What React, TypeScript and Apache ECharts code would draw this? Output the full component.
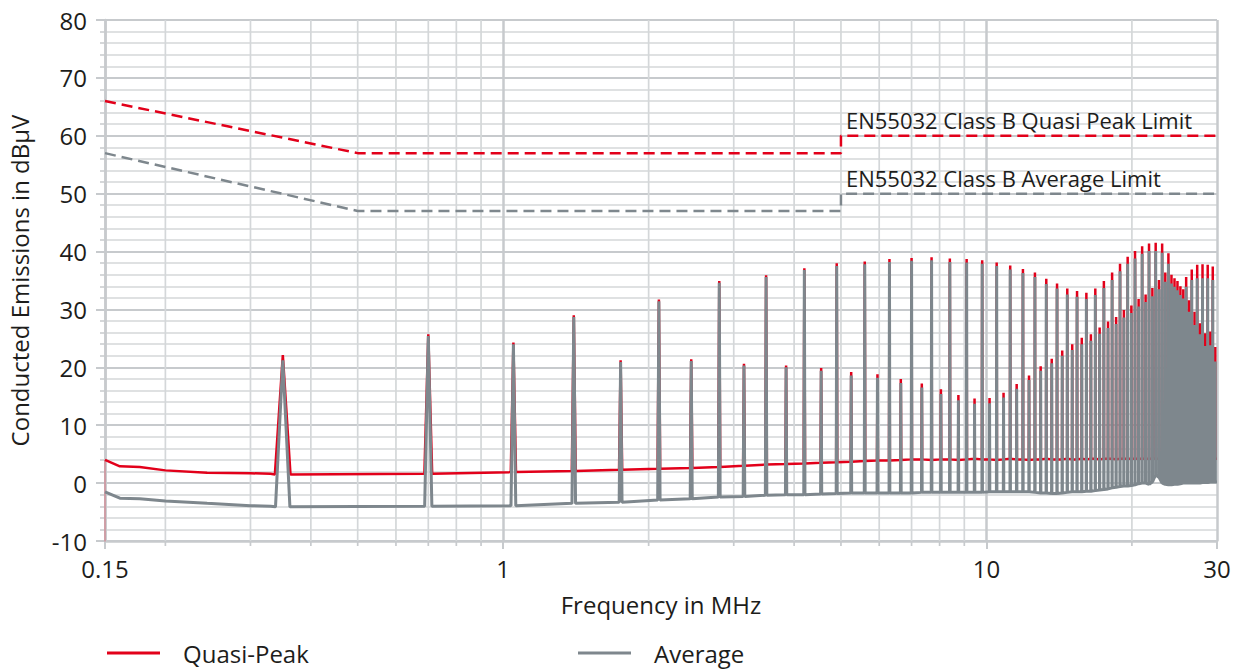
import React, { useEffect, useRef } from "react";
import * as echarts from "echarts";

// ---------- data ----------
const peakFreqs = [
  0.35, 0.7, 1.05, 1.4, 1.75, 2.1, 2.45, 2.8, 3.15, 3.5,
  3.85, 4.2, 4.55, 4.9, 5.25, 5.6, 5.95, 6.3, 6.65, 7.0,
  7.35, 7.7, 8.05, 8.4, 8.75, 9.1, 9.45, 9.8, 10.15, 10.5,
  10.85, 11.2, 11.55, 11.9, 12.25, 12.6, 12.95, 13.3, 13.65, 14.0,
  14.35, 14.7, 15.05, 15.4, 15.75, 16.1, 16.45, 16.8, 17.15, 17.5,
  17.85, 18.2, 18.55, 18.9, 19.25, 19.6, 19.95, 20.3, 20.65, 21.0,
  21.35, 21.7, 22.05, 22.4, 22.75, 23.1, 23.45, 23.8, 24.15, 24.5,
  24.85, 25.2, 25.55, 25.9, 26.25, 26.6, 26.95, 27.3, 27.65, 28.0,
  28.35, 28.7, 29.05, 29.4, 29.75,
];

const qpPeaks = [
  22.1, 25.7, 24.3, 29.0, 21.2, 31.7, 21.4, 34.9, 20.6, 35.9,
  20.3, 37.1, 19.9, 38.0, 19.2, 38.3, 18.8, 38.7, 18.0, 38.9,
  17.2, 39.0, 16.2, 38.8, 15.2, 38.7, 14.6, 38.5, 14.7, 38.1,
  15.6, 37.6, 17.1, 37.0, 18.6, 36.4, 20.2, 35.3, 21.5, 34.5,
  22.9, 33.6, 24.0, 33.2, 25.1, 32.9, 25.7, 33.6, 26.9, 34.9,
  27.9, 36.4, 28.7, 37.9, 29.9, 39.1, 30.7, 40.1, 31.8, 40.9,
  32.6, 41.4, 33.7, 41.5, 35.1, 41.4, 36.4, 39.7, 36.0, 35.4,
  34.9, 34.0, 33.5, 35.6, 31.6, 36.9, 29.6, 37.7, 27.6, 37.8,
  25.9, 37.7, 26.2, 37.4, 23.5,
];

const avPeaks = [
  21.2, 25.4, 24.0, 28.7, 20.9, 31.4, 21.1, 34.6, 20.3, 35.6,
  20.0, 36.8, 19.4, 37.5, 18.6, 37.8, 18.2, 38.2, 17.3, 38.4,
  16.5, 38.5, 15.4, 38.2, 14.3, 38.1, 13.7, 37.9, 13.8, 37.5,
  14.8, 36.9, 16.3, 36.3, 17.8, 35.6, 19.4, 34.4, 20.7, 33.6,
  22.0, 32.6, 23.0, 32.2, 24.0, 31.8, 24.6, 32.5, 25.8, 33.7,
  26.8, 35.1, 27.5, 36.6, 28.6, 37.9, 29.4, 38.8, 30.5, 39.6,
  31.3, 40.1, 32.3, 40.1, 33.5, 39.8, 34.8, 37.9, 34.5, 33.9,
  33.3, 32.5, 31.9, 33.9, 29.6, 35.1, 27.3, 35.4, 25.7, 35.4,
  23.7, 35.4, 23.8, 35.1, 21.0,
];

const qpFloor = [
  1.5, 1.6, 1.9, 2.1, 2.3, 2.5, 2.6, 2.8, 3.0, 3.2,
  3.3, 3.4, 3.5, 3.6, 3.7, 3.8, 3.9, 3.9, 4.0, 4.1,
  4.1, 4.0, 4.1, 4.1, 4.0, 4.1, 4.2, 4.1, 4.1, 4.0,
  4.1, 4.2, 4.1, 4.1, 4.0, 4.1, 4.1, 4.2, 4.1, 4.1,
  4.1, 4.2, 4.1, 4.1, 4.2, 4.1, 4.2, 4.2, 4.1, 4.2,
  4.2, 4.2, 4.1, 4.2, 4.2, 4.2, 4.2, 4.2, 4.2, 4.2,
  4.2, 4.2, 4.2, 4.2, 4.2, 4.2, 4.2, 4.2, 4.2, 4.2,
  4.2, 4.2, 4.2, 4.2, 4.2, 4.2, 4.2, 4.2, 4.2, 4.2,
  4.2, 4.2, 4.2, 4.2, 4.2,
];

const avFloor = [
  -4.1, -4.0, -3.9, -3.5, -3.3, -2.9, -2.7, -2.4, -2.3, -2.1,
  -2.0, -2.0, -1.9, -1.8, -1.7, -1.7, -1.7, -1.7, -1.7, -1.7,
  -1.6, -1.6, -1.6, -1.6, -1.6, -1.6, -1.6, -1.6,
  -1.5, -1.5, -1.5, -1.5, -1.5, -1.5, -1.5,
  -1.6, -1.7, -1.7, -1.8, -1.8, -1.7, -1.6, -1.5,
  -1.5, -1.5, -1.4, -1.4, -1.3, -1.2, -1.1, -1.0, -0.8, -0.7,
  -0.6, -0.5, -0.5, -0.4, -0.3, -0.1, 0.0, 0.0, -0.2, 0.2,
  1.4, 1.0, 0.0, -0.2, -0.3, -0.3, -0.2, -0.2, -0.1, 0.0,
  0.0, 0.0, 0.0, 0.0, 0.0, 0.0, 0.1, 0.1, 0.1, 0.2, 0.2, 0.2,
];

// floor before the first harmonic
const qpLeadFreqs = [0.15, 0.161, 0.177, 0.2, 0.244, 0.3, 0.33];
const qpLeadVals = [4.0, 2.9, 2.8, 2.2, 1.8, 1.7, 1.6];
const qpDropVals = [-12, 4.0]; // thin drop at the band start
const avLeadFreqs = [0.15, 0.161, 0.177, 0.2, 0.244, 0.3, 0.33];
const avLeadVals = [-1.5, -2.6, -2.7, -3.1, -3.5, -3.9, -4.0];
const qpTail = [30, 4.2];
const avTail = [30, 0.2];

// limit lines
const limitFreqs = [0.15, 0.5, 5, 5, 30];
const qpLimitVals = [66, 57, 57, 60, 60];
const avLimitVals = [57, 47, 47, 50, 50];

// axes
const X_MIN = 0.15;
const X_MAX = 30;
const Y_MIN = -10;
const Y_MAX = 80;
const Y_STEP = 10;
const xTickValues = [0.15, 1, 10, 30];
const xTickLabels = ["0.15", "1", "10", "30"];
const xMinorFreqs = [0.2, 0.3, 0.4, 0.5, 0.6, 0.7, 0.8, 0.9, 2, 3, 4, 5, 6, 7, 8, 9, 20];

const QP_LABEL = "EN55032 Class B Quasi Peak Limit";
const AV_LABEL = "EN55032 Class B Average Limit";

// ---------- styles ----------
const FONT = "'Open Sans', 'Noto Sans', sans-serif";
const TEXT = "#1d1d1b";
const RED = "#e2001a";
const GREY = "#7e878d";
const GRID_MAJOR = "#c7cacd";
const GRID_MINOR = "#d4d7d9";
const AV_HALF = 0.012;
const QP_HALF = 0.013;

function buildTrace(
  leadF: number[],
  leadV: number[],
  floor: number[],
  peaks: number[],
  half: number,
  tail: number[]
) {
  const pts: number[][] = leadF.map((f, i) => [f, leadV[i]]);
  peakFreqs.forEach((f, i) => {
    pts.push([f - half, floor[i]], [f, peaks[i]], [f + half, floor[i]]);
  });
  pts.push(tail);
  return pts;
}

export default function App() {
  const ref = useRef<HTMLDivElement>(null);

  useEffect(() => {
    document.body.style.margin = "0";
    const chart = echarts.init(ref.current!, undefined, { renderer: "svg" });

    const qpData = buildTrace(qpLeadFreqs, qpLeadVals, qpFloor, qpPeaks, QP_HALF, qpTail);
    const avData = buildTrace(avLeadFreqs, avLeadVals, avFloor, avPeaks, AV_HALF, avTail);

    const legendBase = {
      top: 641,
      padding: 0,
      icon: "rect",
      itemWidth: 53,
      itemHeight: 3,
      selectedMode: false,
      textStyle: { fontSize: 24, color: TEXT, fontFamily: FONT, padding: [0, 0, 0, 18] },
    };

    const option: any = {
      animation: false,
      backgroundColor: "#ffffff",
      textStyle: { fontFamily: FONT },
      grid: { left: 105, right: 24, top: 20, bottom: 129, containLabel: false, outerBoundsMode: "none" },
      legend: [
        { ...legendBase, left: 107, data: ["Quasi-Peak"] },
        { ...legendBase, left: 578, data: ["Average"] },
      ],
      xAxis: {
        type: "log",
        logBase: 10,
        min: X_MIN,
        max: X_MAX,
        name: "Frequency in MHz",
        nameLocation: "middle",
        nameGap: 51,
        nameTextStyle: { fontSize: 24, color: TEXT, fontFamily: FONT },
        axisLine: { show: true, onZero: false, lineStyle: { color: GRID_MAJOR, width: 2.5 } },
        axisTick: { show: true, length: 8, lineStyle: { color: GRID_MAJOR, width: 2 } },
        axisLabel: {
          fontSize: 24,
          color: TEXT,
          fontFamily: FONT,
          margin: 15,
          showMinLabel: true,
          showMaxLabel: true,
          formatter: (v: number) => {
            let best = 0;
            xTickValues.forEach((t, i) => {
              if (Math.abs(Math.log10(t) - Math.log10(v)) < Math.abs(Math.log10(xTickValues[best]) - Math.log10(v))) best = i;
            });
            return xTickLabels[best];
          },
        },
        splitLine: { show: true, lineStyle: { color: GRID_MAJOR, width: 2.5 } },
      },
      yAxis: {
        type: "value",
        min: Y_MIN,
        max: Y_MAX,
        interval: Y_STEP,
        name: "Conducted Emissions in dBµV",
        nameLocation: "middle",
        nameGap: 74,
        nameTextStyle: { fontSize: 24, color: TEXT, fontFamily: FONT },
        axisLine: { show: true, lineStyle: { color: GRID_MAJOR, width: 2.5 } },
        axisTick: { show: true, length: 9, lineStyle: { color: GRID_MAJOR, width: 2 } },
        minorTick: { show: true, splitNumber: 5, length: 5, lineStyle: { color: GRID_MAJOR, width: 1.5 } },
        splitLine: { show: true, lineStyle: { color: GRID_MAJOR, width: 2 } },
        minorSplitLine: { show: true, lineStyle: { color: GRID_MINOR, width: 1.5 } },
        axisLabel: { fontSize: 24, color: TEXT, fontFamily: FONT, margin: 18 },
      },
      series: [
        {
          name: "QP Limit",
          type: "line",
          data: limitFreqs.map((f, i) => [f, qpLimitVals[i]]),
          showSymbol: false,
          symbol: "none",
          silent: true,
          z: 3,
          lineStyle: { color: RED, width: 2.5, type: [11, 6] },
        },
        {
          name: "AV Limit",
          type: "line",
          data: limitFreqs.map((f, i) => [f, avLimitVals[i]]),
          showSymbol: false,
          symbol: "none",
          silent: true,
          z: 3,
          lineStyle: { color: GREY, width: 2.5, type: [11, 6] },
        },
        {
          name: "QP start",
          type: "line",
          data: qpDropVals.map((v) => [X_MIN, v]),
          showSymbol: false,
          symbol: "none",
          silent: true,
          z: 4,
          lineStyle: { color: RED, width: 1, opacity: 0.45 },
        },
        {
          name: "Quasi-Peak",
          type: "line",
          data: qpData,
          showSymbol: false,
          symbol: "none",
          silent: true,
          z: 4,
          color: RED,
          itemStyle: { color: RED },
          lineStyle: { color: RED, width: 2.5 },
        },
        {
          name: "Average",
          type: "line",
          data: avData,
          showSymbol: false,
          symbol: "none",
          silent: true,
          z: 5,
          color: GREY,
          itemStyle: { color: GREY },
          lineStyle: { color: GREY, width: 3 },
        },
      ],
    };

    chart.setOption(option);

    const toPx = (f: number, v: number) =>
      chart.convertToPixel({ xAxisIndex: 0, yAxisIndex: 0 }, [f, v]) as number[];
    const yTop = toPx(1, Y_MAX)[1];
    const yBot = toPx(1, Y_MIN)[1];
    const elements: any[] = [];
    xMinorFreqs.forEach((f) => {
      const x = toPx(f, 0)[0];
      elements.push({
        type: "line",
        silent: true,
        z: 1,
        shape: { x1: x, y1: yTop, x2: x, y2: yBot },
        style: { stroke: GRID_MINOR, lineWidth: 1.7 },
      });
      elements.push({
        type: "line",
        silent: true,
        z: 1,
        shape: { x1: x, y1: yBot, x2: x, y2: yBot + 5 },
        style: { stroke: GRID_MAJOR, lineWidth: 1.7 },
      });
    });
    const qpPos = toPx(limitFreqs[3], qpLimitVals[3]);
    const avPos = toPx(limitFreqs[3], avLimitVals[3]);
    elements.push({
      type: "text",
      silent: true,
      z: 10,
      x: qpPos[0] + 5,
      y: qpPos[1] - 5,
      style: { text: QP_LABEL, fill: TEXT, fontSize: 22, fontFamily: FONT, align: "left", verticalAlign: "bottom" },
    });
    elements.push({
      type: "text",
      silent: true,
      z: 10,
      x: avPos[0] + 5,
      y: avPos[1] - 5,
      style: { text: AV_LABEL, fill: TEXT, fontSize: 22, fontFamily: FONT, align: "left", verticalAlign: "bottom" },
    });
    chart.setOption({ graphic: { elements } });

    return () => chart.dispose();
  }, []);

  return (
    <div
      ref={ref}
      style={{ position: "absolute", left: 0, top: 0, width: 1241, height: 670 }}
    />
  );
}
